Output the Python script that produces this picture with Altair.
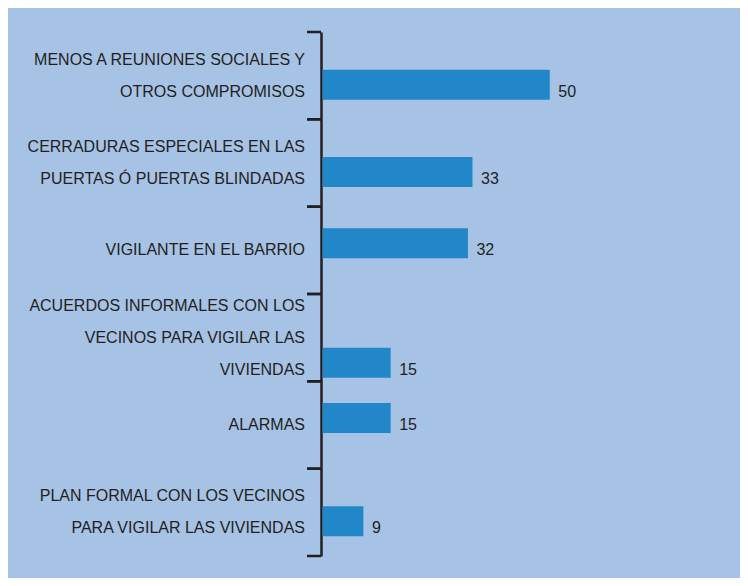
import altair as alt
import pandas as pd

categories = [
    "MENOS A REUNIONES SOCIALES Y|OTROS COMPROMISOS",
    "CERRADURAS ESPECIALES EN LAS|PUERTAS Ó PUERTAS BLINDADAS",
    "VIGILANTE EN EL  BARRIO",
    "ACUERDOS INFORMALES CON LOS|VECINOS PARA VIGILAR LAS|VIVIENDAS",
    "ALARMAS",
    "PLAN FORMAL CON LOS VECINOS|PARA VIGILAR LAS VIVIENDAS",
]
values = [50, 33, 32, 15, 15, 9]

df = pd.DataFrame({"cat": categories, "value": values})

BG = "#a6c2e5"
BAR = "#2187c9"
INK = "#231f20"
FONT = "Liberation Sans"
FS = 16
LH = 32

yaxis = alt.Axis(labels=False, ticks=False, title=None, grid=False,
                 domainColor=INK, domainWidth=2.5)
yscale = alt.Scale(paddingInner=0, paddingOuter=0)


def Y(**kw):
    return alt.Y("cat:N", sort=categories, axis=yaxis, scale=yscale, **kw)


NL = "(length(split(datum.cat, '|')) - 1)"
bar_shift = f"{NL} * {LH / 2} - 7"

base = alt.Chart(df).transform_calculate(lines="split(datum.cat, '|')")

xenc = alt.X("value:Q", scale=alt.Scale(domain=[0, 88]), axis=None)

bars = base.mark_bar(color=BAR, size=30, yOffset=alt.expr(bar_shift),
                     xOffset=1.5).encode(x=xenc, y=Y())

nums = base.mark_text(align="left", baseline="alphabetic", dx=10,
                      dy=alt.expr(f"{bar_shift} + 12"),
                      font=FONT, fontSize=FS, color=INK).encode(
    x=xenc, y=Y(), text="value:Q")

labels = base.mark_text(align="right", baseline="middle", lineHeight=LH,
                        dy=alt.expr(f"-{NL} * {LH / 2}"),
                        font=FONT, fontSize=FS, color=INK).encode(
    x=alt.value(-16), y=Y(), text="lines:N")

ticks_top = base.mark_rule(color=INK, strokeWidth=2.5).encode(
    x=alt.value(-14), x2=alt.value(0), y=Y(bandPosition=0))
ticks_bot = base.mark_rule(color=INK, strokeWidth=2.5).encode(
    x=alt.value(-14), x2=alt.value(0), y=Y(bandPosition=1))

chart = alt.layer(bars, nums, labels, ticks_top, ticks_bot).properties(
    width=400, height=524,
    autosize=alt.AutoSizeParams(type="none"),
    padding={"left": 313, "top": 24, "right": 19, "bottom": 22},
    background=BG,
).configure_view(stroke=None)

chart.save("out.html", embed_options={"renderer": "svg", "actions": False})
